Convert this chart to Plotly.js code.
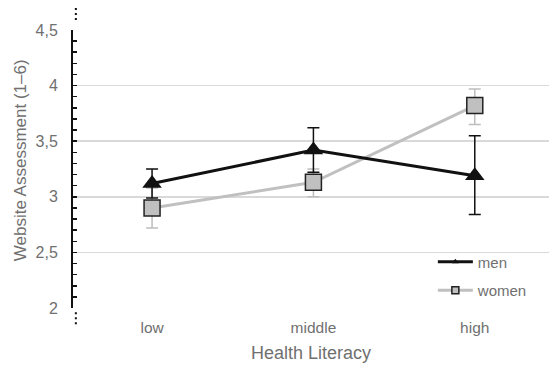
<!DOCTYPE html>
<html>
<head>
<meta charset="utf-8">
<script src="https://cdn.plot.ly/plotly-3.0.1.min.js"></script>
<style>html,body{margin:0;padding:0;background:#fff}#chart{width:549px;height:366px}</style>
</head>
<body>
<div id="chart"></div>
<script>
var categories = ["low", "middle", "high"];
var menValues = [3.12, 3.42, 3.19];
var menErrPlus = [0.13, 0.20, 0.36];
var menErrMinus = [0.13, 0.20, 0.35];
var womenValues = [2.90, 3.13, 3.82];
var womenErrPlus = [0.18, 0.12, 0.15];
var womenErrMinus = [0.18, 0.13, 0.17];
var yTickVals = [2, 2.5, 3, 3.5, 4, 4.5];
var yTickText = ["2", "2,5", "3", "3,5", "4", "4,5"];

var grey = "#707070";
var women = {
  x: categories, y: womenValues, type: "scatter", mode: "lines+markers", showlegend: false,
  line: {color: "#c0c0c0", width: 3},
  marker: {symbol: "square", size: 16, color: "#c0c0c0", line: {color: "#222", width: 1.5}},
  error_y: {type: "data", symmetric: false, array: womenErrPlus, arrayminus: womenErrMinus, color: "#bdbdbd", thickness: 1.5, width: 6}
};
var men = {
  x: categories, y: menValues, type: "scatter", mode: "lines+markers", showlegend: false,
  line: {color: "#111", width: 3},
  marker: {symbol: "triangle-up", size: 17, color: "#111"},
  error_y: {type: "data", symmetric: false, array: menErrPlus, arrayminus: menErrMinus, color: "#111", thickness: 1.5, width: 6}
};
var menLeg = {x: [null], y: [null], type: "scatter", mode: "lines+markers", name: "men", legendgroup: "a",
  line: {color: "#111", width: 3}, marker: {symbol: "triangle-up", size: 6, color: "#111"}};
var womenLeg = {x: [null], y: [null], type: "scatter", mode: "lines+markers", name: "women", legendgroup: "b",
  line: {color: "#c0c0c0", width: 3}, marker: {symbol: "square", size: 7, color: "#c0c0c0", line: {color: "#222", width: 1.5}}};

var layout = {
  width: 549, height: 366,
  margin: {l: 73, r: 0, t: 30, b: 58},
  paper_bgcolor: "#fff", plot_bgcolor: "#fff",
  font: {family: "Liberation Sans, Arial, sans-serif", color: grey, size: 15},
  xaxis: {
    type: "category", range: [-0.49, 2.46], showgrid: false, zeroline: false, showline: false,
    ticks: "", tickfont: {size: 15.5, color: grey}, ticklabelstandoff: 8,
    title: {text: "Health Literacy", font: {size: 18, color: grey}, standoff: 11}
  },
  yaxis: {
    range: [2, 4.5], tickvals: yTickVals, ticktext: yTickText,
    showgrid: true, gridcolor: "#d9d9d9", gridwidth: 1.5, zeroline: false,
    showline: true, linecolor: "#111", linewidth: 2,
    ticks: "inside", ticklen: 4, tickcolor: "#111", tickwidth: 1.5,
    minor: {dtick: 0.1, ticks: "inside", ticklen: 4, tickcolor: "#111", tickwidth: 1.5, showgrid: false},
    tickfont: {size: 16, color: grey}, ticklabelstandoff: 10
  },
  annotations: [
    {text: "Website Assessment (1–6)", textangle: -90, xref: "paper", yref: "paper",
      x: -0.111, y: 0.532, xanchor: "center", yanchor: "middle", showarrow: false,
      font: {size: 17, color: grey}}
  ],
  showlegend: true,
  legend: {x: 0.756, y: 0.225, xanchor: "left", yanchor: "top", bgcolor: "rgba(0,0,0,0)",
    font: {size: 15, color: grey}, tracegroupgap: 6, traceorder: "grouped", itemwidth: 35},
  shapes: [
    {type: "line", xref: "paper", yref: "paper", x0: 0.006, x1: 0.006, y0: 1.036, y1: 1.08,
      line: {color: "#111", width: 2, dash: "2px,3px"}},
    {type: "line", xref: "paper", yref: "paper", x0: 0.006, x1: 0.006, y0: -0.015, y1: -0.062,
      line: {color: "#111", width: 2, dash: "2px,3px"}}
  ]
};
Plotly.newPlot("chart", [women, men, menLeg, womenLeg], layout, {displayModeBar: false, staticPlot: true});
</script>
</body>
</html>
